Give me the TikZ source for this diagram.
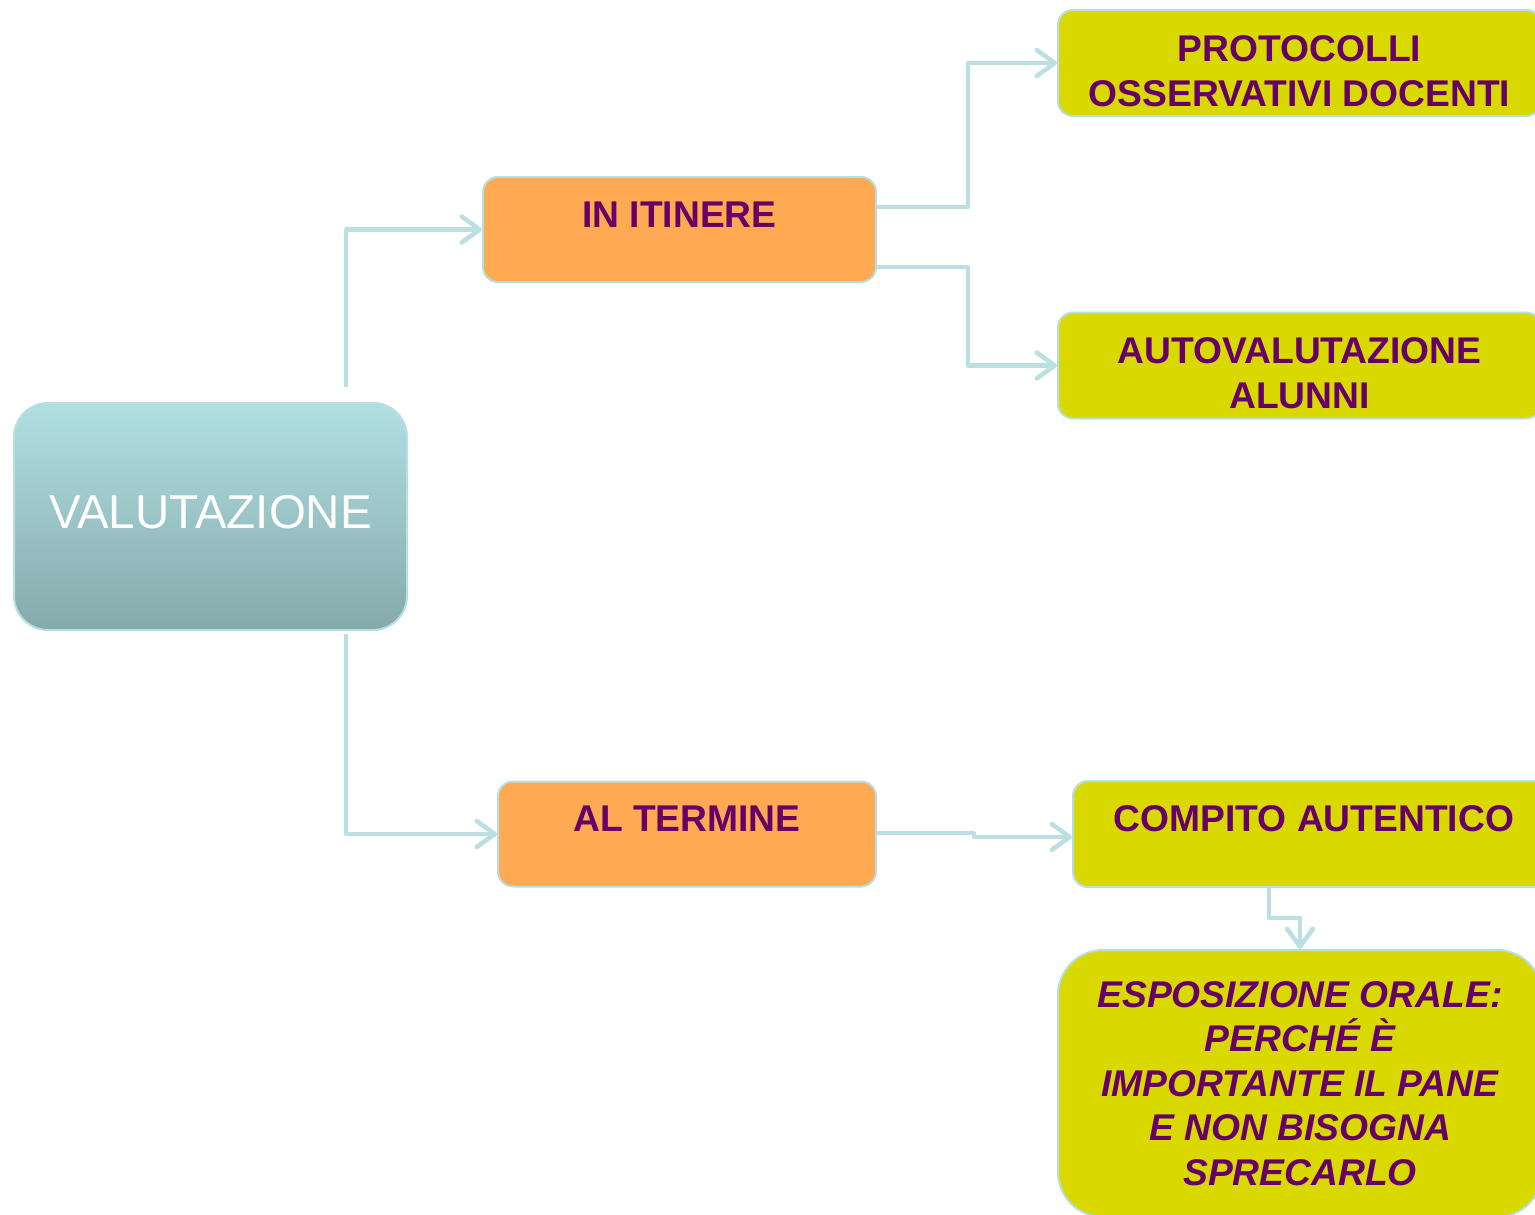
\documentclass[tikz,border=0pt]{standalone}
\usepackage{fontspec}
\setmainfont{Liberation Sans}
\usetikzlibrary{
        arrows.meta,
        positioning
    }
\definecolor{linkcol}{HTML}{BBDFE2}
\definecolor{edgecol}{HTML}{B7DEE1}
\definecolor{valtop}{HTML}{B0DFE2}
\definecolor{valbot}{HTML}{86AAAB}
\definecolor{phasecol}{HTML}{FFA953}
\definecolor{toolcol}{HTML}{D9D900}
\definecolor{plum}{HTML}{660066}
\newcommand{\padtop}{\rule{0pt}{41.5pt}}
\tikzset{>={Straight Barb[length=18pt,width=26pt,round]}}
\tikzset{
    root/.style={draw=edgecol,line width=2pt,rounded corners=34pt,
        top color=valtop,bottom color=valbot,text=white,
        font=\fontsize{47.5}{50}\selectfont,inner sep=0pt},
    box/.style={draw=edgecol,line width=2pt,rounded corners=15pt,
        text=plum,align=center,inner sep=0pt,
        font=\fontsize{37.2}{45}\selectfont\bfseries},
    phase/.style={box,fill=phasecol,minimum height=105pt},
    tool/.style={box,fill=toolcol,minimum height=106pt},
    link/.style={->,draw=linkcol,line width=4.5pt,line join=round}
}

\begin{document}
\begin{tikzpicture}[x=1pt,y=1pt]
    \useasboundingbox (0,0) rectangle (1535,-1215);
    \node[root,minimum width=393pt,minimum height=227pt,text depth=9pt] (val) at (210.5,-516.5) {VALUTAZIONE};
    \node[phase,minimum width=393pt,text depth=30pt] (itin) at (679.5,-229.5) {IN ITINERE};
    \node[phase,minimum width=378pt,text depth=30pt] (term) at (687,-834) {AL TERMINE};
    \node[tool,minimum width=483pt] (prot) at (1299.5,-63) {\padtop PROTOCOLLI\\OSSERVATIVI DOCENTI};
    \node[tool,minimum width=483pt] (auto) at (1299.5,-365.5) {\padtop AUTOVALUTAZIONE\\ALUNNI};
    \node[tool,minimum width=482pt,text depth=30pt] (comp) at (1314,-834) {COMPITO AUTENTICO};
    \node[tool,minimum width=484pt,minimum height=267pt,rounded corners=45pt,
          font=\fontsize{37.2}{44.5}\selectfont\bfseries\itshape]
          (espo) [below=61pt of comp,xshift=-14pt]
          {ESPOSIZIONE ORALE:\\PERCHÉ È\\IMPORTANTE IL PANE\\E NON BISOGNA\\SPRECARLO};
    \draw[link] ([xshift=135.5pt,yshift=15pt]val.north) |- (itin.west);
    \draw[link] ([xshift=135.5pt,yshift=-3pt]val.south) |- (term.west);
    \draw[link] ([yshift=22.5pt]itin.east) -- ++(91,0) |- (prot.west);
    \draw[link] ([yshift=-37.5pt]itin.east) -- ++(91,0) |- (auto.west);
    \draw[link] ([yshift=1pt]term.east) -- ++(97,0) -- ++(0,-4) -- ([yshift=-3pt]comp.west);
    \draw[link] ([xshift=-45pt]comp.south) -- ++(0,-30) -| (espo.north);
\end{tikzpicture}
\end{document}
